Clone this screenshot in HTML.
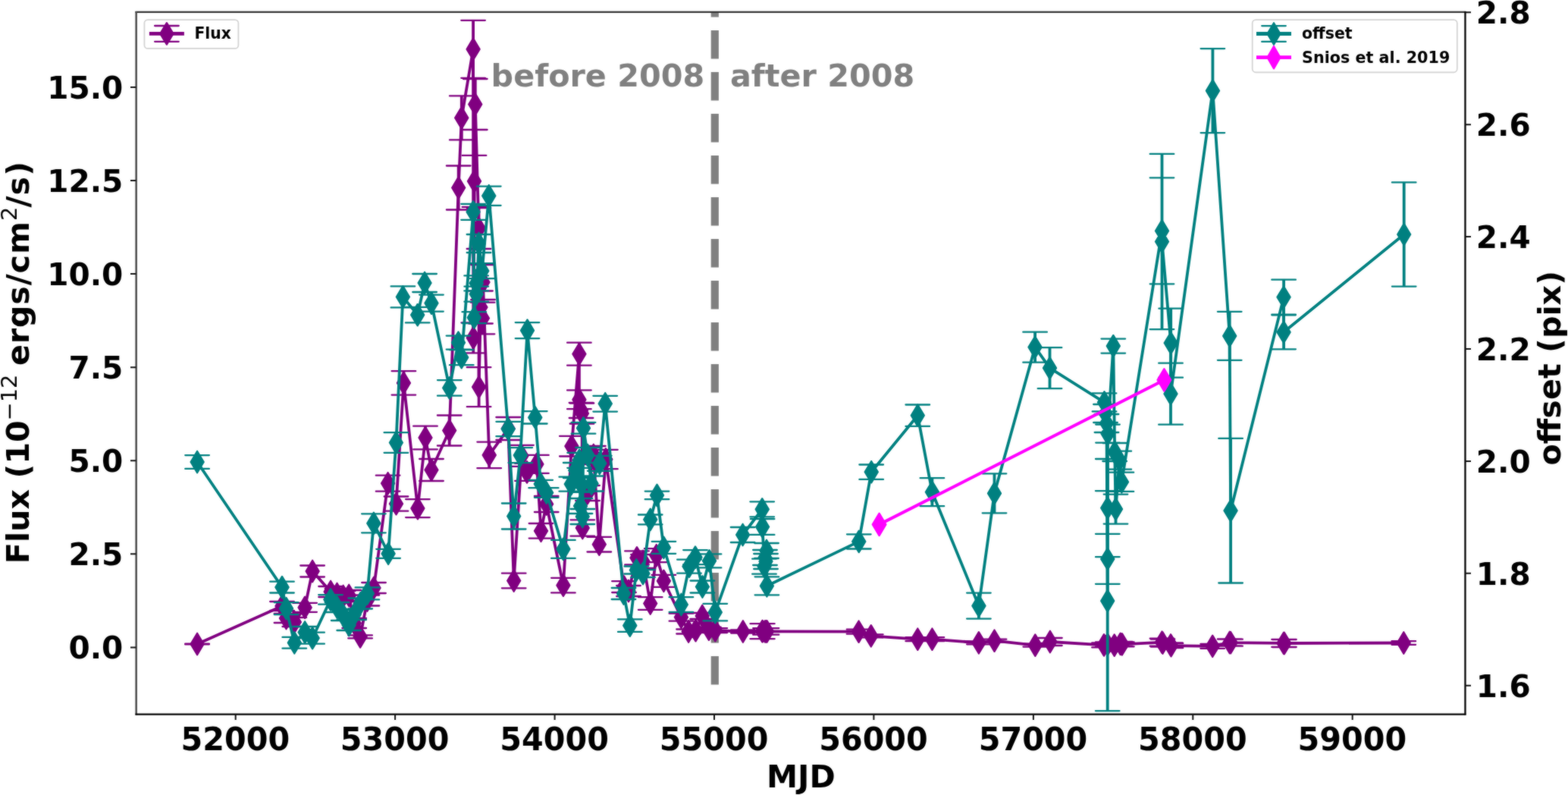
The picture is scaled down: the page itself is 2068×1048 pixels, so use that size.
<!DOCTYPE html>
<html lang="en"><head><meta charset="utf-8"><title>Flux and offset vs MJD</title>
<style>
html,body{margin:0;padding:0;background:#fff;}
body{width:2068px;height:1048px;overflow:hidden;}
svg text{white-space:pre;}
</style></head>
<body>
<svg width="2068" height="1048" viewBox="0 0 2068 1048" style="display:block"><defs><clipPath id="ax"><rect x="179.5" y="16.3" width="1753.0" height="925.1"/></clipPath></defs><defs><filter id="soft" x="0" y="0" width="2068" height="1048" filterUnits="userSpaceOnUse" color-interpolation-filters="sRGB"><feGaussianBlur in="SourceGraphic" stdDeviation="1" result="b"/><feComposite in="SourceGraphic" in2="b" operator="arithmetic" k1="0" k2="0.58" k3="0.42" k4="0"/></filter></defs><g filter="url(#soft)"><rect x="0" y="0" width="2068" height="1048" fill="#ffffff"/><g clip-path="url(#ax)"><path d="M942.8 902.6V-100" fill="none" stroke="#808080" stroke-width="10.2" stroke-dasharray="37.6 17.4"/></g><text x="647.6" y="113.5" font-family='"DejaVu Sans", "Liberation Sans", sans-serif' font-weight="bold" font-size="41.3" fill="#808080">before 2008</text><text x="963" y="113.5" font-family='"DejaVu Sans", "Liberation Sans", sans-serif' font-weight="bold" font-size="41.3" fill="#808080">after 2008</text><g clip-path="url(#ax)"><path d="M260.1 849.0L372.0 799.0L377.5 815.0L388.3 820.0L402.1 800.8L412.1 753.0L436.1 780.0L444.5 783.0L452.7 786.0L460.2 785.0L467.2 821.5L475.1 839.4L484.4 791.5L493.0 775.0L511.6 637.2L522.5 664.1L532.4 504.9L550.9 670.1L561.0 577.0L569.0 619.5L592.7 567.5L604.7 247.5L608.8 155.4L624.1 64.8L624.3 445.4L625.5 238.9L626.8 137.5L631.5 301.0L631.6 510.2L634.0 405.0L636.5 419.5L637.0 372.0L645.2 599.9L670.2 565.0L677.7 765.5L688.0 600.8L695.0 622.4L707.9 611.9L713.5 699.8L720.7 664.5L742.9 771.6L753.9 588.2L763.9 466.7L763.9 526.8L766.5 541.0L767.5 545.0L768.3 696.0L775.0 650.0L782.8 600.0L790.3 717.7L798.9 605.5L823.0 773.6L829.0 779.0L840.0 735.4L848.0 740.0L857.7 795.5L865.7 732.2L875.4 765.8L898.4 813.7L908.1 832.5L917.5 831.1L926.2 812.0L934.9 829.6L943.3 831.1L979.9 832.5L1005.3 832.2L1005.8 832.2L1009.0 832.4L1010.4 832.4L1011.5 832.4L1132.6 832.7L1148.8 838.3L1210.3 842.7L1229.4 842.7L1290.9 847.3L1311.5 844.7L1365.3 850.6L1384.9 846.0L1456.0 850.4L1460.8 849.5L1469.7 850.6L1477.7 848.9L1479.9 849.3L1532.5 846.7L1533.5 847.5L1544.0 850.5L1544.5 851.1L1599.2 851.8L1621.7 847.0L1623.1 847.2L1693.1 847.9L1693.9 848.0L1851.3 847.5" fill="none" stroke="#800080" stroke-width="3.8" stroke-linejoin="round" stroke-linecap="butt"/><path d="M260.1 834.8L268.6 849.0L260.1 863.2L251.5 849.0ZM372.0 784.8L380.6 799.0L372.0 813.2L363.4 799.0ZM377.5 800.8L386.1 815.0L377.5 829.2L368.9 815.0ZM388.3 805.8L396.9 820.0L388.3 834.2L379.8 820.0ZM402.1 786.6L410.7 800.8L402.1 815.0L393.6 800.8ZM412.1 738.8L420.7 753.0L412.1 767.2L403.6 753.0ZM436.1 765.8L444.7 780.0L436.1 794.2L427.6 780.0ZM444.5 768.8L453.1 783.0L444.5 797.2L435.9 783.0ZM452.7 771.8L461.2 786.0L452.7 800.2L444.1 786.0ZM460.2 770.8L468.8 785.0L460.2 799.2L451.6 785.0ZM467.2 807.3L475.8 821.5L467.2 835.7L458.6 821.5ZM475.1 825.2L483.7 839.4L475.1 853.6L466.6 839.4ZM484.4 777.3L492.9 791.5L484.4 805.7L475.8 791.5ZM493.0 760.8L501.6 775.0L493.0 789.2L484.4 775.0ZM511.6 623.0L520.1 637.2L511.6 651.4L503.1 637.2ZM522.5 649.9L531.0 664.1L522.5 678.3L514.0 664.1ZM532.4 490.7L540.9 504.9L532.4 519.1L523.9 504.9ZM550.9 655.9L559.4 670.1L550.9 684.3L542.4 670.1ZM561.0 562.8L569.5 577.0L561.0 591.2L552.5 577.0ZM569.0 605.3L577.5 619.5L569.0 633.7L560.5 619.5ZM592.7 553.3L601.2 567.5L592.7 581.7L584.2 567.5ZM604.7 233.3L613.2 247.5L604.7 261.7L596.2 247.5ZM608.8 141.2L617.3 155.4L608.8 169.6L600.2 155.4ZM624.1 50.6L632.6 64.8L624.1 79.0L615.6 64.8ZM624.3 431.2L632.8 445.4L624.3 459.6L615.8 445.4ZM625.5 224.7L634.0 238.9L625.5 253.1L617.0 238.9ZM626.8 123.3L635.3 137.5L626.8 151.7L618.2 137.5ZM631.5 286.8L640.0 301.0L631.5 315.2L623.0 301.0ZM631.6 496.0L640.1 510.2L631.6 524.4L623.1 510.2ZM634.0 390.8L642.5 405.0L634.0 419.2L625.5 405.0ZM636.5 405.3L645.0 419.5L636.5 433.7L628.0 419.5ZM637.0 357.8L645.5 372.0L637.0 386.2L628.5 372.0ZM645.2 585.7L653.8 599.9L645.2 614.1L636.7 599.9ZM670.2 550.8L678.8 565.0L670.2 579.2L661.7 565.0ZM677.7 751.3L686.2 765.5L677.7 779.7L669.2 765.5ZM688.0 586.6L696.5 600.8L688.0 615.0L679.5 600.8ZM695.0 608.2L703.5 622.4L695.0 636.6L686.5 622.4ZM707.9 597.7L716.4 611.9L707.9 626.1L699.4 611.9ZM713.5 685.6L722.0 699.8L713.5 714.0L705.0 699.8ZM720.7 650.3L729.2 664.5L720.7 678.7L712.2 664.5ZM742.9 757.4L751.4 771.6L742.9 785.8L734.4 771.6ZM753.9 574.0L762.4 588.2L753.9 602.4L745.4 588.2ZM763.9 452.5L772.4 466.7L763.9 480.9L755.4 466.7ZM763.9 512.6L772.4 526.8L763.9 541.0L755.4 526.8ZM766.5 526.8L775.0 541.0L766.5 555.2L758.0 541.0ZM767.5 530.8L776.0 545.0L767.5 559.2L759.0 545.0ZM768.3 681.8L776.8 696.0L768.3 710.2L759.8 696.0ZM775.0 635.8L783.5 650.0L775.0 664.2L766.5 650.0ZM782.8 585.8L791.3 600.0L782.8 614.2L774.2 600.0ZM790.3 703.5L798.8 717.7L790.3 731.9L781.8 717.7ZM798.9 591.3L807.4 605.5L798.9 619.7L790.4 605.5ZM823.0 759.4L831.5 773.6L823.0 787.8L814.5 773.6ZM829.0 764.8L837.5 779.0L829.0 793.2L820.5 779.0ZM840.0 721.2L848.5 735.4L840.0 749.6L831.5 735.4ZM848.0 725.8L856.5 740.0L848.0 754.2L839.5 740.0ZM857.7 781.3L866.2 795.5L857.7 809.7L849.2 795.5ZM865.7 718.0L874.2 732.2L865.7 746.4L857.2 732.2ZM875.4 751.6L883.9 765.8L875.4 780.0L866.9 765.8ZM898.4 799.5L906.9 813.7L898.4 827.9L889.9 813.7ZM908.1 818.3L916.6 832.5L908.1 846.7L899.6 832.5ZM917.5 816.9L926.0 831.1L917.5 845.3L909.0 831.1ZM926.2 797.8L934.8 812.0L926.2 826.2L917.7 812.0ZM934.9 815.4L943.4 829.6L934.9 843.8L926.4 829.6ZM943.3 816.9L951.8 831.1L943.3 845.3L934.8 831.1ZM979.9 818.3L988.4 832.5L979.9 846.7L971.4 832.5ZM1005.3 818.0L1013.8 832.2L1005.3 846.4L996.8 832.2ZM1005.8 818.0L1014.3 832.2L1005.8 846.4L997.2 832.2ZM1009.0 818.2L1017.5 832.4L1009.0 846.6L1000.5 832.4ZM1010.4 818.2L1018.9 832.4L1010.4 846.6L1001.9 832.4ZM1011.5 818.2L1020.0 832.4L1011.5 846.6L1003.0 832.4ZM1132.6 818.5L1141.1 832.7L1132.6 846.9L1124.0 832.7ZM1148.8 824.1L1157.3 838.3L1148.8 852.5L1140.2 838.3ZM1210.3 828.5L1218.8 842.7L1210.3 856.9L1201.8 842.7ZM1229.4 828.5L1238.0 842.7L1229.4 856.9L1220.9 842.7ZM1290.9 833.1L1299.5 847.3L1290.9 861.5L1282.4 847.3ZM1311.5 830.5L1320.0 844.7L1311.5 858.9L1303.0 844.7ZM1365.3 836.4L1373.8 850.6L1365.3 864.8L1356.8 850.6ZM1384.9 831.8L1393.5 846.0L1384.9 860.2L1376.4 846.0ZM1456.0 836.2L1464.5 850.4L1456.0 864.6L1447.5 850.4ZM1460.8 835.3L1469.3 849.5L1460.8 863.7L1452.2 849.5ZM1469.7 836.4L1478.2 850.6L1469.7 864.8L1461.2 850.6ZM1477.7 834.7L1486.2 848.9L1477.7 863.1L1469.2 848.9ZM1479.9 835.1L1488.5 849.3L1479.9 863.5L1471.4 849.3ZM1532.5 832.5L1541.0 846.7L1532.5 860.9L1524.0 846.7ZM1533.5 833.3L1542.0 847.5L1533.5 861.7L1525.0 847.5ZM1544.0 836.3L1552.5 850.5L1544.0 864.7L1535.5 850.5ZM1544.5 836.9L1553.0 851.1L1544.5 865.3L1536.0 851.1ZM1599.2 837.6L1607.8 851.8L1599.2 866.0L1590.7 851.8ZM1621.7 832.8L1630.2 847.0L1621.7 861.2L1613.2 847.0ZM1623.1 833.0L1631.6 847.2L1623.1 861.4L1614.5 847.2ZM1693.1 833.7L1701.6 847.9L1693.1 862.1L1684.5 847.9ZM1693.9 833.8L1702.5 848.0L1693.9 862.2L1685.4 848.0ZM1851.3 833.3L1859.8 847.5L1851.3 861.7L1842.8 847.5Z" fill="#800080" stroke="#800080" stroke-width="2.25" stroke-linejoin="round"/><path d="M244.2 848.6H275.9M244.2 849.4H275.9M356.2 793.0H387.8M356.2 805.0H387.8M361.7 809.0H393.3M361.7 821.0H393.3M372.5 814.0H404.1M372.5 826.0H404.1M386.3 794.8H417.9M386.3 806.8H417.9M396.3 745.5H427.9M396.3 760.5H427.9M420.3 773.0H451.9M420.3 787.0H451.9M428.7 776.0H460.3M428.7 790.0H460.3M436.9 779.0H468.5M436.9 793.0H468.5M444.4 778.0H476.0M444.4 792.0H476.0M451.4 815.0H483.0M451.4 828.0H483.0M459.3 837.4H490.9M459.3 841.4H490.9M468.6 784.5H500.2M468.6 798.5H500.2M477.2 768.0H508.8M477.2 782.0H508.8M495.8 626.7H527.4M495.8 647.7H527.4M506.7 654.5H538.3M506.7 673.7H538.3M516.6 489.2H548.2M516.6 520.6H548.2M535.1 658.1H566.7M535.1 682.1H566.7M545.2 561.7H576.8M545.2 592.3H576.8M553.2 605.0H584.8M553.2 634.0H584.8M576.9 547.5H608.5M576.9 587.5H608.5M588.9 218.5H620.5M588.9 276.5H620.5M593.0 126.4H624.6M593.0 184.4H624.6M608.3 26.8H639.9M608.3 102.8H639.9M608.5 425.4H640.1M608.5 465.4H640.1M609.7 204.9H641.3M609.7 272.9H641.3M611.0 104.0H642.6M611.0 171.0H642.6M615.7 274.0H647.3M615.7 328.0H647.3M615.8 484.2H647.4M615.8 536.2H647.4M618.2 383.5H649.8M618.2 426.5H649.8M620.7 398.7H652.3M620.7 440.3H652.3M621.2 349.0H652.8M621.2 395.0H652.8M629.4 582.6H661.0M629.4 617.2H661.0M654.4 550.0H686.0M654.4 580.0H686.0M661.9 755.7H693.5M661.9 775.3H693.5M672.2 586.8H703.8M672.2 614.8H703.8M679.2 610.9H710.8M679.2 633.9H710.8M692.1 599.9H723.7M692.1 623.9H723.7M697.7 690.0H729.3M697.7 709.6H729.3M704.9 654.0H736.5M704.9 675.0H736.5M727.1 761.8H758.7M727.1 781.4H758.7M738.1 574.9H769.7M738.1 601.5H769.7M748.1 451.7H779.7M748.1 481.7H779.7M748.1 514.4H779.7M748.1 539.2H779.7M750.7 531.0H782.3M750.7 551.0H782.3M751.7 531.5H783.3M751.7 558.5H783.3M752.5 685.3H784.1M752.5 706.7H784.1M759.2 640.0H790.8M759.2 660.0H790.8M767.0 588.0H798.6M767.0 612.0H798.6M774.5 707.9H806.1M774.5 727.5H806.1M783.1 592.8H814.7M783.1 618.2H814.7M807.2 766.2H838.8M807.2 781.0H838.8M813.2 772.0H844.8M813.2 786.0H844.8M824.2 726.4H855.8M824.2 744.4H855.8M832.2 731.0H863.8M832.2 749.0H863.8M841.9 787.2H873.5M841.9 803.8H873.5M849.9 723.2H881.5M849.9 741.2H881.5M859.6 757.8H891.2M859.6 773.8H891.2M882.6 808.7H914.2M882.6 818.7H914.2M892.3 829.5H923.9M892.3 835.5H923.9M901.7 828.1H933.3M901.7 834.1H933.3M910.4 808.0H942.0M910.4 816.0H942.0M919.1 826.6H950.7M919.1 832.6H950.7M927.5 828.1H959.1M927.5 834.1H959.1M964.1 830.5H995.7M964.1 834.5H995.7M989.5 822.2H1021.1M989.5 842.2H1021.1M990.0 822.2H1021.6M990.0 842.2H1021.6M993.2 828.1H1024.8M993.2 836.7H1024.8M994.6 828.1H1026.2M994.6 836.7H1026.2M995.7 828.1H1027.3M995.7 836.7H1027.3M1116.8 829.7H1148.4M1116.8 835.7H1148.4M1133.0 836.3H1164.6M1133.0 840.3H1164.6M1194.5 840.2H1226.1M1194.5 845.2H1226.1M1213.6 840.2H1245.2M1213.6 845.2H1245.2M1275.1 845.3H1306.7M1275.1 849.3H1306.7M1295.7 842.7H1327.3M1295.7 846.7H1327.3M1349.5 848.6H1381.1M1349.5 852.6H1381.1M1369.1 841.0H1400.7M1369.1 851.0H1400.7M1440.2 847.4H1471.8M1440.2 853.4H1471.8M1445.0 846.5H1476.6M1445.0 852.5H1476.6M1453.9 847.6H1485.5M1453.9 853.6H1485.5M1461.9 845.9H1493.5M1461.9 851.9H1493.5M1464.1 846.3H1495.7M1464.1 852.3H1495.7M1516.7 841.7H1548.3M1516.7 851.7H1548.3M1517.7 842.5H1549.3M1517.7 852.5H1549.3M1528.2 847.5H1559.8M1528.2 853.5H1559.8M1528.7 848.1H1560.3M1528.7 854.1H1560.3M1583.4 848.8H1615.0M1583.4 854.8H1615.0M1605.9 842.5H1637.5M1605.9 851.5H1637.5M1607.3 842.7H1638.9M1607.3 851.7H1638.9M1677.3 842.9H1708.9M1677.3 852.9H1708.9M1678.1 843.0H1709.7M1678.1 853.0H1709.7M1835.5 845.2H1867.1M1835.5 849.8H1867.1" fill="none" stroke="#800080" stroke-width="2.3" stroke-linecap="round"/><path d="M260.1 848.6V849.4M372.0 793.0V805.0M377.5 809.0V821.0M388.3 814.0V826.0M402.1 794.8V806.8M412.1 745.5V760.5M436.1 773.0V787.0M444.5 776.0V790.0M452.7 779.0V793.0M460.2 778.0V792.0M467.2 815.0V828.0M475.1 837.4V841.4M484.4 784.5V798.5M493.0 768.0V782.0M511.6 626.7V647.7M522.5 654.5V673.7M532.4 489.2V520.6M550.9 658.1V682.1M561.0 561.7V592.3M569.0 605.0V634.0M592.7 547.5V587.5M604.7 218.5V276.5M608.8 126.4V184.4M624.1 26.8V102.8M624.3 425.4V465.4M625.5 204.9V272.9M626.8 104.0V171.0M631.5 274.0V328.0M631.6 484.2V536.2M634.0 383.5V426.5M636.5 398.7V440.3M637.0 349.0V395.0M645.2 582.6V617.2M670.2 550.0V580.0M677.7 755.7V775.3M688.0 586.8V614.8M695.0 610.9V633.9M707.9 599.9V623.9M713.5 690.0V709.6M720.7 654.0V675.0M742.9 761.8V781.4M753.9 574.9V601.5M763.9 451.7V481.7M763.9 514.4V539.2M766.5 531.0V551.0M767.5 531.5V558.5M768.3 685.3V706.7M775.0 640.0V660.0M782.8 588.0V612.0M790.3 707.9V727.5M798.9 592.8V618.2M823.0 766.2V781.0M829.0 772.0V786.0M840.0 726.4V744.4M848.0 731.0V749.0M857.7 787.2V803.8M865.7 723.2V741.2M875.4 757.8V773.8M898.4 808.7V818.7M908.1 829.5V835.5M917.5 828.1V834.1M926.2 808.0V816.0M934.9 826.6V832.6M943.3 828.1V834.1M979.9 830.5V834.5M1005.3 822.2V842.2M1005.8 822.2V842.2M1009.0 828.1V836.7M1010.4 828.1V836.7M1011.5 828.1V836.7M1132.6 829.7V835.7M1148.8 836.3V840.3M1210.3 840.2V845.2M1229.4 840.2V845.2M1290.9 845.3V849.3M1311.5 842.7V846.7M1365.3 848.6V852.6M1384.9 841.0V851.0M1456.0 847.4V853.4M1460.8 846.5V852.5M1469.7 847.6V853.6M1477.7 845.9V851.9M1479.9 846.3V852.3M1532.5 841.7V851.7M1533.5 842.5V852.5M1544.0 847.5V853.5M1544.5 848.1V854.1M1599.2 848.8V854.8M1621.7 842.5V851.5M1623.1 842.7V851.7M1693.1 842.9V852.9M1693.9 843.0V853.0M1851.3 845.2V849.8" fill="none" stroke="#800080" stroke-width="3.8" stroke-linecap="butt"/></g><g clip-path="url(#ax)"><path d="M260.1 609.0L372.0 774.1L377.5 802.1L388.3 847.3L402.1 833.5L412.1 841.2L436.0 790.4L444.5 800.5L452.7 811.0L460.2 824.0L467.2 810.0L475.2 795.5L484.4 782.4L492.9 689.8L512.1 729.8L522.4 583.5L531.4 391.4L550.7 415.1L560.1 373.0L569.0 399.6L592.8 511.4L604.5 451.6L608.7 471.2L624.1 279.3L625.3 418.7L628.2 373.4L628.3 387.7L631.5 321.0L635.8 357.2L644.8 258.2L670.2 565.5L677.7 680.5L686.3 600.1L695.5 435.6L705.8 550.3L713.2 638.0L720.7 649.5L742.9 723.9L753.3 638.2L758.7 620.0L764.1 606.8L765.5 667.0L766.8 638.9L768.3 681.0L769.5 564.3L775.0 600.0L780.1 637.5L790.8 610.8L798.2 532.2L822.5 782.5L830.8 824.6L839.3 751.5L848.0 756.0L857.7 684.9L866.5 652.9L875.4 721.8L898.4 797.0L909.0 746.7L917.0 734.6L926.4 773.5L935.5 739.4L943.3 807.1L979.6 705.0L1005.2 671.3L1005.6 694.5L1008.0 746.7L1009.0 735.0L1010.0 740.0L1011.0 726.0L1011.4 772.3L1132.8 713.9L1149.2 622.2L1210.3 547.7L1229.4 648.7L1290.9 798.6L1311.5 650.3L1365.1 457.7L1384.5 485.2L1456.5 530.4L1458.0 545.0L1459.5 558.0L1460.7 792.1L1460.8 736.8L1460.8 669.6L1461.0 571.6L1468.3 456.1L1470.2 596.0L1471.5 671.1L1476.3 606.7L1479.4 635.3L1532.5 304.3L1532.5 318.5L1544.2 452.2L1544.0 519.2L1599.4 119.6L1621.7 442.8L1623.1 673.2L1693.1 391.7L1693.1 437.8L1851.7 309.0" fill="none" stroke="#008080" stroke-width="3.8" stroke-linejoin="round" stroke-linecap="butt"/><path d="M260.1 594.8L268.7 609.0L260.1 623.2L251.6 609.0ZM372.0 759.9L380.6 774.1L372.0 788.3L363.4 774.1ZM377.5 787.9L386.1 802.1L377.5 816.3L368.9 802.1ZM388.3 833.1L396.9 847.3L388.3 861.5L379.8 847.3ZM402.1 819.3L410.7 833.5L402.1 847.7L393.6 833.5ZM412.1 827.0L420.7 841.2L412.1 855.4L403.6 841.2ZM436.0 776.2L444.6 790.4L436.0 804.6L427.4 790.4ZM444.5 786.3L453.1 800.5L444.5 814.7L435.9 800.5ZM452.7 796.8L461.2 811.0L452.7 825.2L444.1 811.0ZM460.2 809.8L468.8 824.0L460.2 838.2L451.6 824.0ZM467.2 795.8L475.8 810.0L467.2 824.2L458.6 810.0ZM475.2 781.3L483.8 795.5L475.2 809.7L466.6 795.5ZM484.4 768.2L492.9 782.4L484.4 796.6L475.8 782.4ZM492.9 675.6L501.4 689.8L492.9 704.0L484.3 689.8ZM512.1 715.6L520.6 729.8L512.1 744.0L503.6 729.8ZM522.4 569.3L530.9 583.5L522.4 597.7L513.9 583.5ZM531.4 377.2L539.9 391.4L531.4 405.6L522.9 391.4ZM550.7 400.9L559.2 415.1L550.7 429.3L542.2 415.1ZM560.1 358.8L568.6 373.0L560.1 387.2L551.6 373.0ZM569.0 385.4L577.5 399.6L569.0 413.8L560.5 399.6ZM592.8 497.2L601.3 511.4L592.8 525.6L584.2 511.4ZM604.5 437.4L613.0 451.6L604.5 465.8L596.0 451.6ZM608.7 457.0L617.2 471.2L608.7 485.4L600.2 471.2ZM624.1 265.1L632.6 279.3L624.1 293.5L615.6 279.3ZM625.3 404.5L633.8 418.7L625.3 432.9L616.8 418.7ZM628.2 359.2L636.8 373.4L628.2 387.6L619.7 373.4ZM628.3 373.5L636.8 387.7L628.3 401.9L619.8 387.7ZM631.5 306.8L640.0 321.0L631.5 335.2L623.0 321.0ZM635.8 343.0L644.3 357.2L635.8 371.4L627.2 357.2ZM644.8 244.0L653.3 258.2L644.8 272.4L636.2 258.2ZM670.2 551.3L678.8 565.5L670.2 579.7L661.7 565.5ZM677.7 666.3L686.2 680.5L677.7 694.7L669.2 680.5ZM686.3 585.9L694.8 600.1L686.3 614.3L677.8 600.1ZM695.5 421.4L704.0 435.6L695.5 449.8L687.0 435.6ZM705.8 536.1L714.3 550.3L705.8 564.5L697.2 550.3ZM713.2 623.8L721.8 638.0L713.2 652.2L704.7 638.0ZM720.7 635.3L729.2 649.5L720.7 663.7L712.2 649.5ZM742.9 709.7L751.4 723.9L742.9 738.1L734.4 723.9ZM753.3 624.0L761.8 638.2L753.3 652.4L744.8 638.2ZM758.7 605.8L767.2 620.0L758.7 634.2L750.2 620.0ZM764.1 592.6L772.6 606.8L764.1 621.0L755.6 606.8ZM765.5 652.8L774.0 667.0L765.5 681.2L757.0 667.0ZM766.8 624.7L775.3 638.9L766.8 653.1L758.2 638.9ZM768.3 666.8L776.8 681.0L768.3 695.2L759.8 681.0ZM769.5 550.1L778.0 564.3L769.5 578.5L761.0 564.3ZM775.0 585.8L783.5 600.0L775.0 614.2L766.5 600.0ZM780.1 623.3L788.6 637.5L780.1 651.7L771.6 637.5ZM790.8 596.6L799.3 610.8L790.8 625.0L782.2 610.8ZM798.2 518.0L806.8 532.2L798.2 546.4L789.7 532.2ZM822.5 768.3L831.0 782.5L822.5 796.7L814.0 782.5ZM830.8 810.4L839.3 824.6L830.8 838.8L822.2 824.6ZM839.3 737.3L847.8 751.5L839.3 765.7L830.8 751.5ZM848.0 741.8L856.5 756.0L848.0 770.2L839.5 756.0ZM857.7 670.7L866.2 684.9L857.7 699.1L849.2 684.9ZM866.5 638.7L875.0 652.9L866.5 667.1L858.0 652.9ZM875.4 707.6L883.9 721.8L875.4 736.0L866.9 721.8ZM898.4 782.8L906.9 797.0L898.4 811.2L889.9 797.0ZM909.0 732.5L917.5 746.7L909.0 760.9L900.5 746.7ZM917.0 720.4L925.5 734.6L917.0 748.8L908.5 734.6ZM926.4 759.3L934.9 773.5L926.4 787.7L917.9 773.5ZM935.5 725.2L944.0 739.4L935.5 753.6L927.0 739.4ZM943.3 792.9L951.8 807.1L943.3 821.3L934.8 807.1ZM979.6 690.8L988.1 705.0L979.6 719.2L971.1 705.0ZM1005.2 657.1L1013.8 671.3L1005.2 685.5L996.7 671.3ZM1005.6 680.3L1014.1 694.5L1005.6 708.7L997.1 694.5ZM1008.0 732.5L1016.5 746.7L1008.0 760.9L999.5 746.7ZM1009.0 720.8L1017.5 735.0L1009.0 749.2L1000.5 735.0ZM1010.0 725.8L1018.5 740.0L1010.0 754.2L1001.5 740.0ZM1011.0 711.8L1019.5 726.0L1011.0 740.2L1002.5 726.0ZM1011.4 758.1L1019.9 772.3L1011.4 786.5L1002.9 772.3ZM1132.8 699.7L1141.3 713.9L1132.8 728.1L1124.2 713.9ZM1149.2 608.0L1157.8 622.2L1149.2 636.4L1140.7 622.2ZM1210.3 533.5L1218.8 547.7L1210.3 561.9L1201.8 547.7ZM1229.4 634.5L1238.0 648.7L1229.4 662.9L1220.9 648.7ZM1290.9 784.4L1299.5 798.6L1290.9 812.8L1282.4 798.6ZM1311.5 636.1L1320.0 650.3L1311.5 664.5L1303.0 650.3ZM1365.1 443.5L1373.6 457.7L1365.1 471.9L1356.5 457.7ZM1384.5 471.0L1393.0 485.2L1384.5 499.4L1376.0 485.2ZM1456.5 516.2L1465.0 530.4L1456.5 544.6L1448.0 530.4ZM1458.0 530.8L1466.5 545.0L1458.0 559.2L1449.5 545.0ZM1459.5 543.8L1468.0 558.0L1459.5 572.2L1451.0 558.0ZM1460.7 777.9L1469.2 792.1L1460.7 806.3L1452.2 792.1ZM1460.8 722.6L1469.3 736.8L1460.8 751.0L1452.2 736.8ZM1460.8 655.4L1469.3 669.6L1460.8 683.8L1452.2 669.6ZM1461.0 557.4L1469.5 571.6L1461.0 585.8L1452.5 571.6ZM1468.3 441.9L1476.8 456.1L1468.3 470.3L1459.8 456.1ZM1470.2 581.8L1478.8 596.0L1470.2 610.2L1461.7 596.0ZM1471.5 656.9L1480.0 671.1L1471.5 685.3L1463.0 671.1ZM1476.3 592.5L1484.8 606.7L1476.3 620.9L1467.8 606.7ZM1479.4 621.1L1488.0 635.3L1479.4 649.5L1470.9 635.3ZM1532.5 290.1L1541.0 304.3L1532.5 318.5L1524.0 304.3ZM1532.5 304.3L1541.0 318.5L1532.5 332.7L1524.0 318.5ZM1544.2 438.0L1552.8 452.2L1544.2 466.4L1535.7 452.2ZM1544.0 505.0L1552.5 519.2L1544.0 533.4L1535.5 519.2ZM1599.4 105.4L1608.0 119.6L1599.4 133.8L1590.9 119.6ZM1621.7 428.6L1630.2 442.8L1621.7 457.0L1613.2 442.8ZM1623.1 659.0L1631.6 673.2L1623.1 687.4L1614.5 673.2ZM1693.1 377.5L1701.6 391.7L1693.1 405.9L1684.5 391.7ZM1693.1 423.6L1701.6 437.8L1693.1 452.0L1684.5 437.8ZM1851.7 294.8L1860.2 309.0L1851.7 323.2L1843.2 309.0Z" fill="#008080" stroke="#008080" stroke-width="2.25" stroke-linejoin="round"/><path d="M244.3 600.1H275.9M244.3 617.9H275.9M356.2 766.7H387.8M356.2 781.5H387.8M361.7 794.1H393.3M361.7 810.1H393.3M372.5 839.9H404.1M372.5 854.7H404.1M386.3 826.0H417.9M386.3 841.0H417.9M396.3 833.7H427.9M396.3 848.7H427.9M420.2 784.1H451.8M420.2 796.7H451.8M428.7 794.0H460.3M428.7 807.0H460.3M436.9 804.0H468.5M436.9 818.0H468.5M444.4 817.0H476.0M444.4 831.0H476.0M451.4 803.0H483.0M451.4 817.0H483.0M459.4 788.5H491.0M459.4 802.5H491.0M468.6 774.4H500.2M468.6 790.4H500.2M477.1 677.3H508.7M477.1 702.3H508.7M496.3 723.8H527.9M496.3 735.8H527.9M506.6 570.2H538.2M506.6 596.8H538.2M515.6 377.4H547.2M515.6 405.4H547.2M534.9 404.8H566.5M534.9 425.4H566.5M544.3 361.0H575.9M544.3 385.0H575.9M553.2 388.6H584.8M553.2 410.6H584.8M577.0 501.1H608.6M577.0 521.7H608.6M588.7 442.6H620.3M588.7 460.6H620.3M592.9 461.2H624.5M592.9 481.2H624.5M608.3 268.8H639.9M608.3 289.8H639.9M609.5 411.2H641.1M609.5 426.2H641.1M612.4 363.4H644.0M612.4 383.4H644.0M612.5 377.7H644.1M612.5 397.7H644.1M615.7 309.0H647.3M615.7 333.0H647.3M620.0 347.2H651.6M620.0 367.2H651.6M629.0 245.6H660.6M629.0 270.8H660.6M654.4 555.8H686.0M654.4 575.2H686.0M661.9 663.5H693.5M661.9 697.5H693.5M670.5 590.1H702.1M670.5 610.1H702.1M679.7 425.1H711.3M679.7 446.1H711.3M690.0 542.1H721.6M690.0 558.5H721.6M697.4 632.8H729.0M697.4 643.2H729.0M704.9 643.2H736.5M704.9 655.8H736.5M727.1 711.9H758.7M727.1 735.9H758.7M737.5 628.7H769.1M737.5 647.7H769.1M742.9 610.0H774.5M742.9 630.0H774.5M748.3 596.8H779.9M748.3 616.8H779.9M749.7 657.0H781.3M749.7 677.0H781.3M751.0 628.9H782.6M751.0 648.9H782.6M752.5 671.0H784.1M752.5 691.0H784.1M753.7 556.9H785.3M753.7 571.7H785.3M759.2 590.0H790.8M759.2 610.0H790.8M764.3 627.5H795.9M764.3 647.5H795.9M775.0 600.8H806.6M775.0 620.8H806.6M782.4 521.8H814.0M782.4 542.6H814.0M806.7 775.0H838.3M806.7 790.0H838.3M815.0 816.3H846.6M815.0 832.9H846.6M823.5 746.5H855.1M823.5 756.5H855.1M832.2 751.0H863.8M832.2 761.0H863.8M841.9 678.5H873.5M841.9 691.3H873.5M850.7 647.6H882.3M850.7 658.2H882.3M859.6 713.8H891.2M859.6 729.8H891.2M882.6 787.2H914.2M882.6 806.8H914.2M893.2 737.7H924.8M893.2 755.7H924.8M901.2 725.1H932.8M901.2 744.1H932.8M910.6 765.5H942.2M910.6 781.5H942.2M919.7 730.4H951.3M919.7 748.4H951.3M927.5 795.8H959.1M927.5 818.4H959.1M963.8 695.0H995.4M963.8 715.0H995.4M989.4 661.3H1021.0M989.4 681.3H1021.0M989.8 684.1H1021.4M989.8 704.9H1021.4M992.2 736.7H1023.8M992.2 756.7H1023.8M993.2 725.0H1024.8M993.2 745.0H1024.8M994.2 730.0H1025.8M994.2 750.0H1025.8M995.2 716.0H1026.8M995.2 736.0H1026.8M995.6 760.3H1027.2M995.6 784.3H1027.2M1117.0 704.3H1148.6M1117.0 723.5H1148.6M1133.4 612.5H1165.0M1133.4 631.9H1165.0M1194.5 533.5H1226.1M1194.5 561.9H1226.1M1213.6 630.2H1245.2M1213.6 667.2H1245.2M1275.1 781.6H1306.7M1275.1 815.6H1306.7M1295.7 624.3H1327.3M1295.7 676.3H1327.3M1349.3 437.7H1380.9M1349.3 477.7H1380.9M1368.7 458.2H1400.3M1368.7 512.2H1400.3M1440.7 518.4H1472.3M1440.7 542.4H1472.3M1442.2 533.0H1473.8M1442.2 557.0H1473.8M1443.7 546.0H1475.3M1443.7 570.0H1475.3M1444.9 647.1H1476.5M1444.9 937.1H1476.5M1445.0 703.8H1476.6M1445.0 769.8H1476.6M1445.0 605.0H1476.6M1445.0 734.2H1476.6M1445.2 559.6H1476.8M1445.2 583.6H1476.8M1452.5 446.6H1484.1M1452.5 465.6H1484.1M1454.4 584.0H1486.0M1454.4 608.0H1486.0M1455.7 651.6H1487.3M1455.7 690.6H1487.3M1460.5 594.7H1492.1M1460.5 618.7H1492.1M1463.6 622.7H1495.2M1463.6 647.9H1495.2M1516.7 234.3H1548.3M1516.7 374.3H1548.3M1516.7 202.9H1548.3M1516.7 434.1H1548.3M1528.4 406.7H1560.0M1528.4 497.7H1560.0M1528.2 478.7H1559.8M1528.2 559.7H1559.8M1583.6 64.1H1615.2M1583.6 175.1H1615.2M1605.9 410.8H1637.5M1605.9 474.8H1637.5M1607.3 577.9H1638.9M1607.3 768.5H1638.9M1677.3 368.7H1708.9M1677.3 414.7H1708.9M1677.3 415.3H1708.9M1677.3 460.3H1708.9M1835.9 240.4H1867.5M1835.9 377.6H1867.5" fill="none" stroke="#008080" stroke-width="2.3" stroke-linecap="round"/><path d="M260.1 600.1V617.9M372.0 766.7V781.5M377.5 794.1V810.1M388.3 839.9V854.7M402.1 826.0V841.0M412.1 833.7V848.7M436.0 784.1V796.7M444.5 794.0V807.0M452.7 804.0V818.0M460.2 817.0V831.0M467.2 803.0V817.0M475.2 788.5V802.5M484.4 774.4V790.4M492.9 677.3V702.3M512.1 723.8V735.8M522.4 570.2V596.8M531.4 377.4V405.4M550.7 404.8V425.4M560.1 361.0V385.0M569.0 388.6V410.6M592.8 501.1V521.7M604.5 442.6V460.6M608.7 461.2V481.2M624.1 268.8V289.8M625.3 411.2V426.2M628.2 363.4V383.4M628.3 377.7V397.7M631.5 309.0V333.0M635.8 347.2V367.2M644.8 245.6V270.8M670.2 555.8V575.2M677.7 663.5V697.5M686.3 590.1V610.1M695.5 425.1V446.1M705.8 542.1V558.5M713.2 632.8V643.2M720.7 643.2V655.8M742.9 711.9V735.9M753.3 628.7V647.7M758.7 610.0V630.0M764.1 596.8V616.8M765.5 657.0V677.0M766.8 628.9V648.9M768.3 671.0V691.0M769.5 556.9V571.7M775.0 590.0V610.0M780.1 627.5V647.5M790.8 600.8V620.8M798.2 521.8V542.6M822.5 775.0V790.0M830.8 816.3V832.9M839.3 746.5V756.5M848.0 751.0V761.0M857.7 678.5V691.3M866.5 647.6V658.2M875.4 713.8V729.8M898.4 787.2V806.8M909.0 737.7V755.7M917.0 725.1V744.1M926.4 765.5V781.5M935.5 730.4V748.4M943.3 795.8V818.4M979.6 695.0V715.0M1005.2 661.3V681.3M1005.6 684.1V704.9M1008.0 736.7V756.7M1009.0 725.0V745.0M1010.0 730.0V750.0M1011.0 716.0V736.0M1011.4 760.3V784.3M1132.8 704.3V723.5M1149.2 612.5V631.9M1210.3 533.5V561.9M1229.4 630.2V667.2M1290.9 781.6V815.6M1311.5 624.3V676.3M1365.1 437.7V477.7M1384.5 458.2V512.2M1456.5 518.4V542.4M1458.0 533.0V557.0M1459.5 546.0V570.0M1460.7 647.1V937.1M1460.8 703.8V769.8M1460.8 605.0V734.2M1461.0 559.6V583.6M1468.3 446.6V465.6M1470.2 584.0V608.0M1471.5 651.6V690.6M1476.3 594.7V618.7M1479.4 622.7V647.9M1532.5 234.3V374.3M1532.5 202.9V434.1M1544.2 406.7V497.7M1544.0 478.7V559.7M1599.4 64.1V175.1M1621.7 410.8V474.8M1623.1 577.9V768.5M1693.1 368.7V414.7M1693.1 415.3V460.3M1851.7 240.4V377.6" fill="none" stroke="#008080" stroke-width="3.8" stroke-linecap="butt"/></g><g clip-path="url(#ax)"><path d="M1159.6 691.4L1535.4 500.9" fill="none" stroke="#ff00ff" stroke-width="4.0"/><path d="M1159.6 676.7L1168.4 691.4L1159.6 706.1L1150.8 691.4ZM1535.4 486.2L1544.2 500.9L1535.4 515.6L1526.6 500.9Z" fill="#ff00ff" stroke="#ff00ff" stroke-width="2.25" stroke-linejoin="round"/></g><path d="M178.5 15.95H1933.4" stroke="#333" stroke-width="2.3" fill="none"/><path d="M179.65 15H179.65V942.4" stroke="#484848" stroke-width="2.5" fill="none"/><path d="M178.5 941.55H1933.4" stroke="#000" stroke-width="2.3" fill="none"/><path d="M1932.45 15V942.4" stroke="#000" stroke-width="2.3" fill="none"/><path d="M310.7 941.4v7.5M521.1 941.4v7.5M731.6 941.4v7.5M942.0 941.4v7.5M1152.4 941.4v7.5M1362.9 941.4v7.5M1573.3 941.4v7.5M1783.7 941.4v7.5M179.5 853.4h-7.5M179.5 730.3h-7.5M179.5 607.2h-7.5M179.5 484.2h-7.5M179.5 361.1h-7.5M179.5 238.0h-7.5M179.5 114.9h-7.5M1932.5 903.7h7.5M1932.5 755.8h7.5M1932.5 607.9h7.5M1932.5 460.0h7.5M1932.5 312.1h7.5M1932.5 164.2h7.5M1932.5 16.3h7.5" fill="none" stroke="#111" stroke-width="2.0"/><g font-family='"DejaVu Sans", "Liberation Sans", sans-serif' font-weight="bold" font-size="41.3" fill="#000"><text transform="translate(310.3 988.7) scale(1 1.022)" text-anchor="middle">52000</text><text transform="translate(520.7 988.7) scale(1 1.022)" text-anchor="middle">53000</text><text transform="translate(731.2 988.7) scale(1 1.022)" text-anchor="middle">54000</text><text transform="translate(941.6 988.7) scale(1 1.022)" text-anchor="middle">55000</text><text transform="translate(1152.0 988.7) scale(1 1.022)" text-anchor="middle">56000</text><text transform="translate(1362.5 988.7) scale(1 1.022)" text-anchor="middle">57000</text><text transform="translate(1572.9 988.7) scale(1 1.022)" text-anchor="middle">58000</text><text transform="translate(1783.3 988.7) scale(1 1.022)" text-anchor="middle">59000</text><text x="162.3" y="868.3" text-anchor="end" font-size="40.6">0.0</text><text x="162.3" y="745.2" text-anchor="end" font-size="40.6">2.5</text><text x="162.3" y="622.1" text-anchor="end" font-size="40.6">5.0</text><text x="162.3" y="499.1" text-anchor="end" font-size="40.6">7.5</text><text x="162.3" y="376.0" text-anchor="end" font-size="40.6">10.0</text><text x="162.3" y="252.9" text-anchor="end" font-size="40.6">12.5</text><text x="162.3" y="129.8" text-anchor="end" font-size="40.6">15.0</text><text x="1946.8" y="918.7" text-anchor="start" font-size="40.6">1.6</text><text x="1946.8" y="770.8" text-anchor="start" font-size="40.6">1.8</text><text x="1946.8" y="622.9" text-anchor="start" font-size="40.6">2.0</text><text x="1946.8" y="475.0" text-anchor="start" font-size="40.6">2.2</text><text x="1946.8" y="327.1" text-anchor="start" font-size="40.6">2.4</text><text x="1946.8" y="179.2" text-anchor="start" font-size="40.6">2.6</text><text x="1946.8" y="31.3" text-anchor="start" font-size="40.6">2.8</text></g><text x="1056.3" y="1038" text-anchor="middle" font-family='"DejaVu Sans", "Liberation Sans", sans-serif' font-weight="bold" font-size="41.3" fill="#000">MJD</text><text transform="translate(38.4 743.3) rotate(-90)" font-family='"DejaVu Sans", "Liberation Sans", sans-serif' font-weight="bold" font-size="41.3" letter-spacing="0" fill="#000">Flux (10</text><text transform="translate(22.0 554.5) rotate(-90)" font-family='"DejaVu Sans", "Liberation Sans", sans-serif' font-weight="normal" font-size="28.9" letter-spacing="0" fill="#000">−12</text><text transform="translate(38.4 482.0) rotate(-90)" font-family='"DejaVu Sans", "Liberation Sans", sans-serif' font-weight="bold" font-size="41.3" letter-spacing="0.8" fill="#000">ergs/cm</text><text transform="translate(22.0 291.0) rotate(-90)" font-family='"DejaVu Sans", "Liberation Sans", sans-serif' font-weight="normal" font-size="28.9" letter-spacing="0" fill="#000">2</text><text transform="translate(38.4 273.5) rotate(-90)" font-family='"DejaVu Sans", "Liberation Sans", sans-serif' font-weight="bold" font-size="41.3" letter-spacing="1.0" fill="#000">/s)</text><text transform="translate(2058 485.2) rotate(-90)" text-anchor="middle" font-family='"DejaVu Sans", "Liberation Sans", sans-serif' font-weight="bold" font-size="41.3" fill="#000">offset (pix)</text><rect x="190.4" y="26.1" width="124.0" height="37.8" rx="4.5" ry="4.5" fill="#fff" fill-opacity="0.8" stroke="#d2d2d2" stroke-width="1.7"/><path d="M196.9 44.4H242.9" stroke="#800080" stroke-width="4.8" fill="none"/><path d="M219.9 30.2L228.5 44.4L219.9 58.6L211.3 44.4Z" fill="#800080" stroke="#800080" stroke-width="2.25" stroke-linejoin="round"/><path d="M204.1 34.0H235.70000000000002M204.1 54.8H235.70000000000002" stroke="#800080" stroke-width="2.3" stroke-linecap="round" fill="none"/><path d="M219.9 34.0V54.8" stroke="#800080" stroke-width="3.8" fill="none"/><text transform="translate(256.5 51.3) scale(1 1.04)" font-family='"DejaVu Sans", "Liberation Sans", sans-serif' font-weight="bold" font-size="20.3" fill="#000">Flux</text><rect x="1651.7" y="26.1" width="270.1" height="69.2" rx="4.5" ry="4.5" fill="#fff" fill-opacity="0.8" stroke="#d2d2d2" stroke-width="1.7"/><path d="M1657 44.5H1703" stroke="#008080" stroke-width="4.8" fill="none"/><path d="M1680.0 30.3L1688.5 44.5L1680.0 58.7L1671.5 44.5Z" fill="#008080" stroke="#008080" stroke-width="2.25" stroke-linejoin="round"/><path d="M1664.2 34.1H1695.8M1664.2 54.9H1695.8" stroke="#008080" stroke-width="2.3" stroke-linecap="round" fill="none"/><path d="M1680 34.1V54.9" stroke="#008080" stroke-width="3.8" fill="none"/><path d="M1657 75.7H1703" stroke="#ff00ff" stroke-width="4.8" fill="none"/><path d="M1680.0 61.0L1688.5 75.7L1680.0 90.4L1671.5 75.7Z" fill="#ff00ff" stroke="#ff00ff" stroke-width="2.25" stroke-linejoin="round"/><text transform="translate(1717 51.3) scale(1 1.04)" font-family='"DejaVu Sans", "Liberation Sans", sans-serif' font-weight="bold" font-size="20.5" fill="#000">offset</text><text transform="translate(1717 82.6) scale(1 1.04)" font-family='"DejaVu Sans", "Liberation Sans", sans-serif' font-weight="bold" font-size="20.7" fill="#000">Snios et al. 2019</text></g></svg>
</body></html>
